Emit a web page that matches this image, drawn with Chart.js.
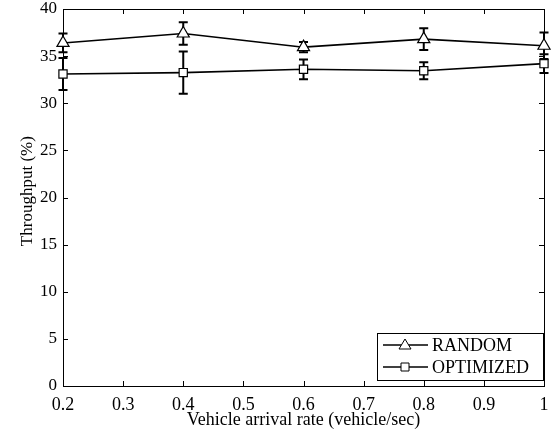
<!DOCTYPE html>
<html>
<head>
<meta charset="utf-8">
<script src="https://cdn.jsdelivr.net/npm/chart.js@4/dist/chart.umd.min.js"></script>
<style>
  html, body { margin: 0; padding: 0; background: #fff; }
  #wrap { width: 556px; height: 435px; }
</style>
</head>
<body>
<div id="wrap"><canvas id="chart" width="556" height="435"></canvas></div>
<script>
// arrival rates (vehicle/sec)
const arrivalRates = [0.2, 0.4, 0.6, 0.8, 1.0];
// throughput means and error bar half-widths (%)
const randomMean = [36.4, 37.4, 35.95, 36.8, 36.1];
const randomErr = [1.0, 1.2, 0.55, 1.15, 1.4];
const optimizedMean = [33.1, 33.25, 33.6, 33.45, 34.2];
const optimizedErr = [1.7, 2.25, 1.05, 0.9, 1.0];
const seriesLabels = ['RANDOM', 'OPTIMIZED'];

const FONT = 'Liberation Serif, Times New Roman, serif';

const toPoints = (ys) => arrivalRates.map((x, i) => ({ x: x, y: ys[i] }));

// error bars, drawn under the markers
const errorBars = {
    id: 'errorBars',
    beforeDatasetsDraw(chart) {
        const { ctx, scales: { x, y } } = chart;
        ctx.save();
        ctx.strokeStyle = '#000';
        ctx.lineWidth = 2;
        chart.data.datasets.forEach((ds) => {
            ds.data.forEach((p, i) => {
                const e = ds.errors[i];
                const px = x.getPixelForValue(p.x);
                const top = y.getPixelForValue(p.y + e);
                const bot = y.getPixelForValue(p.y - e);
                ctx.beginPath();
                ctx.moveTo(px, top); ctx.lineTo(px, bot);
                ctx.moveTo(px - 4.5, top); ctx.lineTo(px + 4.5, top);
                ctx.moveTo(px - 4.5, bot); ctx.lineTo(px + 4.5, bot);
                ctx.stroke();
            });
        });
        ctx.restore();
    }
};

function drawMarker(ctx, style, cx, cy) {
    ctx.beginPath();
    if (style === 'triangle') {
        ctx.moveTo(cx, cy - 6);
        ctx.lineTo(cx + 6, cy + 4);
        ctx.lineTo(cx - 6, cy + 4);
        ctx.closePath();
    } else {
        ctx.rect(cx - 4, cy - 4, 8, 8);
    }
    ctx.fillStyle = '#fff';
    ctx.fill();
    ctx.stroke();
}

// MATLAB style box, inward ticks and legend
const frame = {
    id: 'frame',
    beforeDatasetsDraw(chart) {
        const { ctx, chartArea: a, scales: { x, y } } = chart;
        ctx.save();
        ctx.strokeStyle = '#000';
        ctx.lineWidth = 1;
        ctx.strokeRect(a.left + 0.5, a.top + 0.5, a.right - a.left, a.bottom - a.top);
        ctx.beginPath();
        x.ticks.forEach((t) => {
            const px = Math.round(x.getPixelForValue(t.value)) + 0.5;
            ctx.moveTo(px, a.bottom); ctx.lineTo(px, a.bottom - 5);
            ctx.moveTo(px, a.top); ctx.lineTo(px, a.top + 5);
        });
        y.ticks.forEach((t) => {
            const py = Math.round(y.getPixelForValue(t.value)) + 0.5;
            ctx.moveTo(a.left, py); ctx.lineTo(a.left + 5, py);
            ctx.moveTo(a.right, py); ctx.lineTo(a.right - 5, py);
        });
        ctx.stroke();
        ctx.restore();
    },
    afterDraw(chart) {
        const { ctx, chartArea: a } = chart;
        ctx.save();
        ctx.strokeStyle = '#000';
        ctx.lineWidth = 1;
        // legend box
        const bx = a.right - 167, by = a.bottom - 53, bw = 166, bh = 47;
        ctx.fillStyle = '#fff';
        ctx.fillRect(bx, by, bw, bh);
        ctx.strokeRect(bx + 0.5, by + 0.5, bw, bh);
        ctx.font = '18px ' + FONT;
        ctx.textBaseline = 'middle';
        chart.data.datasets.forEach((ds, i) => {
            const ly = by + 12 + i * 22;
            ctx.lineWidth = 1.5;
            ctx.beginPath();
            ctx.moveTo(bx + 6, ly); ctx.lineTo(bx + 51, ly);
            ctx.stroke();
            ctx.lineWidth = 1;
            drawMarker(ctx, ds.pointStyle, bx + 28, ly);
            ctx.fillStyle = '#000';
            ctx.fillText(ds.label, bx + 55, ly + 1);
        });
        ctx.restore();
    }
};

new Chart(document.getElementById('chart'), {
    type: 'line',
    data: {
        datasets: [
            {
                label: seriesLabels[0],
                data: toPoints(randomMean),
                errors: randomErr,
                clip: false,
                borderColor: '#000',
                borderWidth: 1.6,
                pointStyle: 'triangle',
                pointRadius: 7,
                pointBackgroundColor: '#fff',
                pointBorderColor: '#000',
                pointBorderWidth: 1.2
            },
            {
                label: seriesLabels[1],
                data: toPoints(optimizedMean),
                errors: optimizedErr,
                clip: false,
                borderColor: '#000',
                borderWidth: 1.6,
                pointStyle: 'rect',
                pointRadius: 5.8,
                pointBackgroundColor: '#fff',
                pointBorderColor: '#000',
                pointBorderWidth: 1.2
            }
        ]
    },
    options: {
        responsive: false,
        animation: false,
        layout: { padding: { top: 9, right: 12, left: 0, bottom: 0 } },
        plugins: {
            legend: { display: false },
            tooltip: { enabled: false }
        },
        scales: {
            x: {
                type: 'linear',
                min: 0.2,
                max: 1,
                grid: { display: false, drawTicks: false },
                border: { display: false },
                ticks: {
                    stepSize: 0.1,
                    color: '#000',
                    padding: 8,
                    maxRotation: 0,
                    font: { family: FONT, size: 18 },
                    callback: (v) => String(Math.round(v * 10) / 10)
                },
                title: {
                    display: true,
                    text: 'Vehicle arrival rate (vehicle/sec)',
                    color: '#000',
                    font: { family: FONT, size: 18 },
                    padding: { top: 0, bottom: 4 }
                },
                afterFit: (s) => {
                    s.height = 49;
                    s.paddingLeft = 0;
                    s.paddingRight = 0;
                }
            },
            y: {
                min: 0,
                max: 40,
                grid: { display: false, drawTicks: false },
                border: { display: false },
                ticks: {
                    stepSize: 5,
                    color: '#000',
                    padding: 6,
                    font: { family: FONT, size: 17 }
                },
                title: {
                    display: true,
                    text: '   Throughput (%)',
                    color: '#000',
                    font: { family: FONT, size: 17 },
                    padding: { top: 17, bottom: 0 }
                },
                afterFit: (s) => {
                    s.width = 63;
                    s.paddingTop = 0;
                    s.paddingBottom = 0;
                }
            }
        }
    },
    plugins: [errorBars, frame]
});
</script>
</body>
</html>
